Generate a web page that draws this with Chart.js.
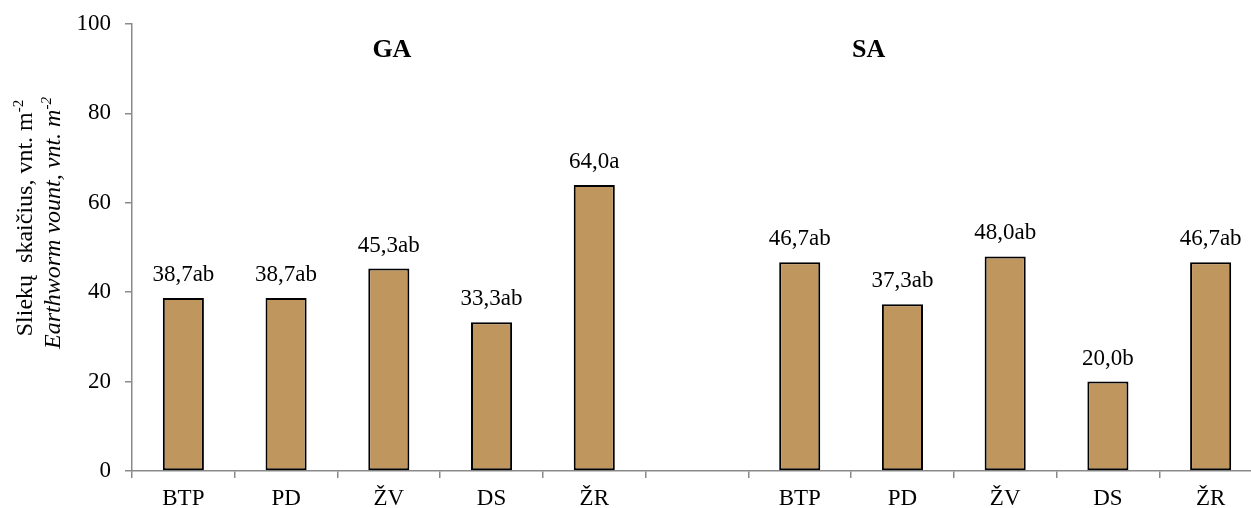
<!DOCTYPE html>
<html>
<head>
<meta charset="utf-8">
<script src="https://cdn.jsdelivr.net/npm/chart.js@4.4.1/dist/chart.umd.min.js"></script>
<style>
  html, body { margin: 0; padding: 0; background: #fff; overflow: hidden; }
  #wrap { width: 1262px; height: 508px; }
</style>
</head>
<body>
<div id="wrap"><canvas id="c" width="1262" height="508"></canvas></div>
<script>
// ---- data ----
const categories = ['BTP', 'PD', 'ŽV', 'DS', 'ŽR', '', 'BTP', 'PD', 'ŽV', 'DS', 'ŽR'];
const earthworms = [38.7, 38.7, 45.3, 33.3, 64.0, null, 46.7, 37.3, 48.0, 20.0, 46.7];
const letters = ['ab', 'ab', 'ab', 'ab', 'a', '', 'ab', 'ab', 'ab', 'b', 'ab'];
const groupNames = ['GA', 'SA'];
const yTicks = [0, 20, 40, 60, 80, 100];

// ---- styles ----
const SERIF = '"Liberation Serif", "Times New Roman", serif';
const FS = 23;
const AXIS_COL = '#8a8a8a';
const groupAt = [2.03, 6.67]; // category-index position of group titles

const labelPlugin = {
  id: 'valueLabels',
  afterDatasetsDraw(chart) {
    const ctx = chart.ctx;
    const meta = chart.getDatasetMeta(0);
    ctx.save();
    ctx.font = FS + 'px ' + SERIF;
    ctx.fillStyle = '#000';
    ctx.textAlign = 'center';
    ctx.textBaseline = 'alphabetic';
    meta.data.forEach((bar, i) => {
      const v = earthworms[i];
      if (v === null || v === undefined) return;
      const txt = v.toFixed(1).replace('.', ',') + letters[i];
      ctx.fillText(txt, bar.x, bar.y - 17);
    });
    ctx.restore();
  }
};

const groupPlugin = {
  id: 'groupTitles',
  afterDraw(chart) {
    const ctx = chart.ctx;
    const xs = chart.scales.x;
    const step = xs.getPixelForValue(1) - xs.getPixelForValue(0);
    ctx.save();
    ctx.font = 'bold 26px ' + SERIF;
    ctx.fillStyle = '#000';
    ctx.textAlign = 'center';
    ctx.textBaseline = 'middle';
    groupNames.forEach((g, i) => {
      const x = xs.getPixelForValue(0) + groupAt[i] * step;
      ctx.fillText(g, x, 50);
    });
    ctx.restore();
  }
};

function drawRotatedLine(ctx, parts, xBase, yCenter) {
  let total = 0;
  parts.forEach(p => { ctx.font = p.font; p.w = ctx.measureText(p.text).width; total += p.w; });
  ctx.save();
  ctx.translate(xBase, yCenter);
  ctx.rotate(-Math.PI / 2);
  ctx.textAlign = 'left';
  ctx.textBaseline = 'alphabetic';
  let x = -total / 2;
  parts.forEach(p => {
    ctx.font = p.font;
    ctx.fillText(p.text, x, p.sup ? -9 : 0);
    x += p.w;
  });
  ctx.restore();
}

const yTitlePlugin = {
  id: 'yTitle',
  afterDraw(chart) {
    const ctx = chart.ctx;
    ctx.save();
    ctx.fillStyle = '#000';
    const TS = 24;
    const f = TS + 'px ' + SERIF;
    const fi = 'italic ' + TS + 'px ' + SERIF;
    const fs = '15px ' + SERIF;
    const fsi = 'italic 15px ' + SERIF;
    drawRotatedLine(ctx, [
      { text: 'Sliekų  skaičius, vnt. m', font: f },
      { text: '-2', font: fs, sup: true }
    ], 32, 218);
    drawRotatedLine(ctx, [
      { text: 'Earthworm vount, vnt. m', font: fi },
      { text: '-2', font: fsi, sup: true }
    ], 60, 223);
    ctx.restore();
  }
};

new Chart(document.getElementById('c'), {
  type: 'bar',
  data: {
    labels: categories,
    datasets: [{
      data: earthworms,
      backgroundColor: '#C0965F',
      borderColor: '#000',
      borderWidth: 2,
      borderSkipped: false,
      barPercentage: 0.4,
      categoryPercentage: 1.0
    }]
  },
  options: {
    responsive: false,
    animation: false,
    devicePixelRatio: 1,
    layout: { padding: { top: 24, right: 0, left: 0, bottom: 0 } },
    plugins: {
      legend: { display: false },
      tooltip: { enabled: false },
      title: { display: false }
    },
    scales: {
      x: {
        offset: true,
        grid: {
          display: true,
          offset: true,
          drawOnChartArea: false,
          drawTicks: true,
          tickLength: 7,
          color: AXIS_COL,
          lineWidth: 1.5
        },
        border: { display: true, color: AXIS_COL, width: 1.5 },
        ticks: {
          autoSkip: false,
          maxRotation: 0,
          padding: 7,
          color: '#000',
          font: { family: SERIF, size: FS }
        },
        afterFit(scale) { scale.height = 37; scale.paddingLeft = 0; scale.paddingRight = 0; }
      },
      y: {
        min: 0,
        max: 100,
        afterBuildTicks(scale) { scale.ticks = yTicks.map(v => ({ value: v })); },
        grid: {
          display: true,
          drawOnChartArea: false,
          drawTicks: true,
          tickLength: 7,
          color: AXIS_COL,
          lineWidth: 1.5
        },
        border: { display: true, color: AXIS_COL, width: 1.5 },
        ticks: {
          padding: 14,
          color: '#000',
          font: { family: SERIF, size: FS }
        },
        afterFit(scale) { scale.width = 132; scale.paddingTop = 0; scale.paddingBottom = 0; }
      }
    }
  },
  plugins: [labelPlugin, groupPlugin, yTitlePlugin]
});
</script>
</body>
</html>
